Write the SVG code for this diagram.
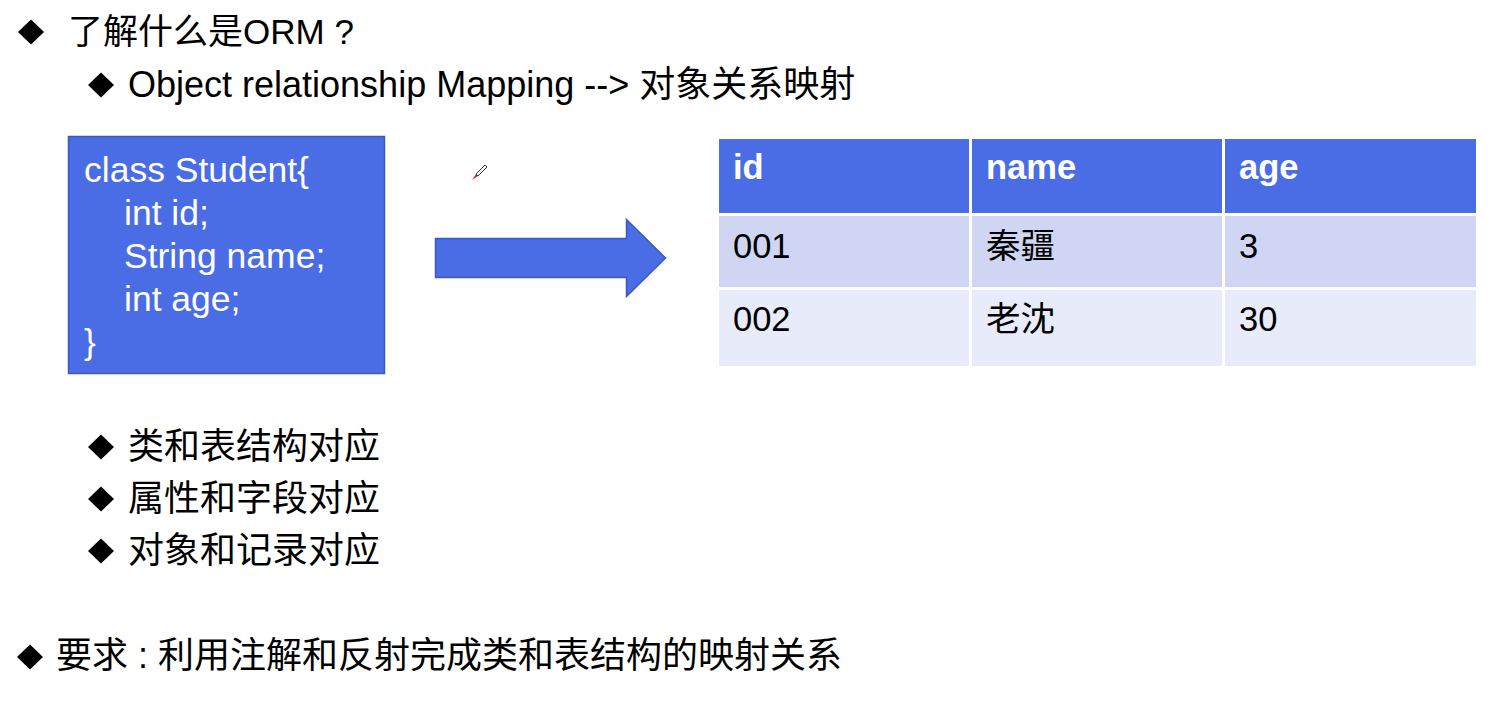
<svg xmlns="http://www.w3.org/2000/svg" width="1499" height="701" viewBox="0 0 1499 701">
<style>
.t{font-family:"Liberation Sans","Noto Sans CJK SC",sans-serif;font-size:36px;fill:#000}
.w{font-family:"Liberation Sans","Noto Sans CJK SC",sans-serif;font-size:35.5px;fill:#fff}
.h{font-family:"Liberation Sans","Noto Sans CJK SC",sans-serif;font-size:34.5px;font-weight:bold;fill:#fff}
.c{font-family:"Liberation Sans","Noto Sans CJK SC",sans-serif;font-size:34.5px;fill:#000}
.blue{fill:#4a6de5;stroke:#3a58c0;stroke-width:1.5}
.hd{fill:#4a6de5}
.r1{fill:#cfd5f3}
.r2{fill:#e8ebfa}
</style>
<defs>
<polygon id="dia" points="0,-12.5 13,0 0,12.5 -13,0" fill="#000"/>
</defs>
<rect width="1499" height="701" fill="#fff"/>

<g id="bullets">
<use href="#dia" x="31" y="32"/>
<text class="t" x="68" y="44" style="font-size:35px">了解什么是ORM ?</text>
<use href="#dia" x="101" y="85"/>
<text class="t" x="128" y="97">Object relationship Mapping --&gt; 对象关系映射</text>
<use href="#dia" x="101" y="447"/>
<text class="t" x="128" y="459">类和表结构对应</text>
<use href="#dia" x="101" y="499"/>
<text class="t" x="128" y="511">属性和字段对应</text>
<use href="#dia" x="101" y="551"/>
<text class="t" x="128" y="563">对象和记录对应</text>
<use href="#dia" x="30" y="657"/>
<text class="t" x="56" y="668">要求 : 利用注解和反射完成类和表结构的映射关系</text>
</g>

<g id="class-box">
<rect class="blue" x="68.5" y="136.5" width="316" height="237"/>
<text class="w" x="84" y="182">class Student{</text>
<text class="w" x="124" y="225">int id;</text>
<text class="w" x="124" y="268">String name;</text>
<text class="w" x="124" y="311">int age;</text>
<text class="w" x="84" y="354">}</text>
</g>

<g id="connectors">
<polygon class="blue" points="435.5,238.5 626.5,238.5 626.5,219.5 665.5,258 626.5,296.5 626.5,277.5 435.5,277.5"/>
</g>

<g id="table">
<rect class="hd" x="719" y="139" width="250" height="74"/>
<rect class="hd" x="972" y="139" width="250" height="74"/>
<rect class="hd" x="1225" y="139" width="251" height="74"/>
<rect class="r1" x="719" y="216" width="250" height="71"/>
<rect class="r1" x="972" y="216" width="250" height="71"/>
<rect class="r1" x="1225" y="216" width="251" height="71"/>
<rect class="r2" x="719" y="290" width="250" height="76"/>
<rect class="r2" x="972" y="290" width="250" height="76"/>
<rect class="r2" x="1225" y="290" width="251" height="76"/>
<text class="h" x="733" y="179">id</text>
<text class="h" x="986" y="179">name</text>
<text class="h" x="1239" y="179">age</text>
<text class="c" x="733" y="258">001</text>
<text class="c" x="986" y="258">秦疆</text>
<text class="c" x="1239" y="258">3</text>
<text class="c" x="733" y="331">002</text>
<text class="c" x="986" y="331">老沈</text>
<text class="c" x="1239" y="331">30</text>
</g>

<g id="cursor">
<polygon points="476,174 485,165 487,167 478,176" fill="#fff" stroke="#000" stroke-width="0.8"/>
<polygon points="472,180 476,174 478,176" fill="#d22"/>
</g>
</svg>
